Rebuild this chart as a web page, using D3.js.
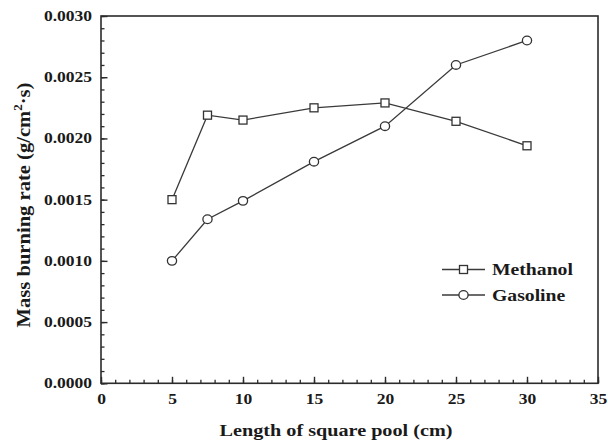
<!DOCTYPE html>
<html><head><meta charset="utf-8">
<script src="https://cdn.jsdelivr.net/npm/d3@7"></script>
<style>
html,body{margin:0;padding:0;background:#fff;}
svg text{font-family:"Liberation Serif","Times New Roman",serif;font-weight:bold;fill:#1a1a1a;}
</style></head>
<body><svg id="c" width="608" height="443"></svg>
<script>
const poolLength = [5, 7.5, 10, 15, 20, 25, 30];
const methanol = [0.00150, 0.00219, 0.00215, 0.00225, 0.00229, 0.00214, 0.00194];
const gasoline = [0.00100, 0.00134, 0.00149, 0.00181, 0.00210, 0.00260, 0.00280];
const xTicks = [0, 5, 10, 15, 20, 25, 30, 35];
const yTicks = [0, 0.0005, 0.0010, 0.0015, 0.0020, 0.0025, 0.0030];
const seriesNames = ["Methanol", "Gasoline"];

const svg = d3.select("#c");
const L = 101, R = 598, T = 16, B = 383.3;
const x = d3.scaleLinear().domain([0, 35]).range([L, R]);
const y = d3.scaleLinear().domain([0, 0.003]).range([B, T]);
const ink = "#2b2b2b";
const STRETCH = 1.25;

function stretchText(sel, f) {
  sel.each(function () {
    const n = this.getComputedTextLength();
    d3.select(this).attr("textLength", n * f).attr("lengthAdjust", "spacingAndGlyphs");
  });
}

// minor ticks
const xMinor = d3.range(0, 36, 1);
const yMinor = d3.range(0, 31, 1).map(d => d / 10000);
svg.append("g").attr("transform", `translate(0,${B})`)
  .call(d3.axisBottom(x).tickValues(xMinor).tickSize(-3.5).tickFormat(""))
  .call(g => { g.select(".domain").remove(); g.selectAll("line").attr("stroke", ink).attr("stroke-width", 1.3); });
svg.append("g").attr("transform", `translate(${L},0)`)
  .call(d3.axisLeft(y).tickValues(yMinor).tickSize(-3.5).tickFormat(""))
  .call(g => { g.select(".domain").remove(); g.selectAll("line").attr("stroke", ink).attr("stroke-width", 1.3); });

// major ticks with labels
const xa = svg.append("g").attr("transform", `translate(0,${B})`)
  .call(d3.axisBottom(x).tickValues(xTicks).tickSize(-6.5).tickPadding(10).tickFormat(d3.format("d")))
  .call(g => { g.select(".domain").remove(); g.selectAll("line").attr("stroke", ink).attr("stroke-width", 1.4); });
xa.selectAll("text").attr("font-size", 14).attr("font-family", null).attr("dy", "0.71em").attr("y", 11).attr("fill", "#1a1a1a");
stretchText(xa.selectAll("text"), STRETCH);

const ya = svg.append("g").attr("transform", `translate(${L},0)`)
  .call(d3.axisLeft(y).tickValues(yTicks).tickSize(-6.5).tickPadding(9).tickFormat(d3.format(".4f")))
  .call(g => { g.select(".domain").remove(); g.selectAll("line").attr("stroke", ink).attr("stroke-width", 1.4); });
ya.selectAll("text").attr("font-size", 14).attr("font-family", null).attr("fill", "#1a1a1a");
stretchText(ya.selectAll("text"), STRETCH);

// frame
svg.append("rect").attr("x", L).attr("y", T).attr("width", R - L).attr("height", B - T)
  .attr("fill", "none").attr("stroke", ink).attr("stroke-width", 1.6);

// lines
const line = d3.line().x(d => x(d[0])).y(d => y(d[1]));
const mData = poolLength.map((v, i) => [v, methanol[i]]);
const gData = poolLength.map((v, i) => [v, gasoline[i]]);
[mData, gData].forEach(data => {
  svg.append("path").datum(data).attr("d", line).attr("fill", "none")
    .attr("stroke", "#3a3a3a").attr("stroke-width", 1.3);
});
function square(g, cx, cy) {
  g.append("rect").attr("x", cx - 4).attr("y", cy - 4).attr("width", 8).attr("height", 8)
    .attr("fill", "#fff").attr("stroke", "#333").attr("stroke-width", 1.3);
}
function circle(g, cx, cy) {
  g.append("ellipse").attr("cx", cx).attr("cy", cy).attr("rx", 4.6).attr("ry", 4.3)
    .attr("fill", "#fff").attr("stroke", "#333").attr("stroke-width", 1.3);
}
const mk = svg.append("g");
mData.forEach(d => square(mk, x(d[0]), y(d[1])));
gData.forEach(d => circle(mk, x(d[0]), y(d[1])));

// legend
const lg = svg.append("g");
const legY = [269.5, 295];
seriesNames.forEach((name, i) => {
  lg.append("line").attr("x1", 442).attr("x2", 485).attr("y1", legY[i]).attr("y2", legY[i])
    .attr("stroke", "#3a3a3a").attr("stroke-width", 1.3);
  if (i === 0) square(lg, 463.5, legY[i]); else circle(lg, 463.5, legY[i]);
  const t = lg.append("text").attr("x", 492).attr("y", legY[i]).attr("dy", "0.35em")
    .attr("font-size", 16).text(name);
  stretchText(t, 1.23);
});

// axis titles
function fitTitle(cx, cy, angle, build, target, cross) {
  const g = svg.append("g").attr("transform", `translate(${cx},${cy}) rotate(${angle})`);
  const inner = g.append("g");
  const t = inner.append("text").attr("text-anchor", "middle").attr("font-size", 16);
  build(t);
  const w = t.node().getBBox().width;
  inner.attr("transform", `scale(${target / w},${cross})`);
}
fitTitle(336, 436, 0, t => t.text("Length of square pool (cm)"), 233, 1);
fitTitle(30, 205, -90, t => {
  t.append("tspan").text("Mass burning rate (g/cm");
  t.append("tspan").attr("font-size", 10).attr("dy", -7).text("2");
  t.append("tspan").attr("dy", 7).text("·s)");
}, 245, 1.15);
</script></body></html>
